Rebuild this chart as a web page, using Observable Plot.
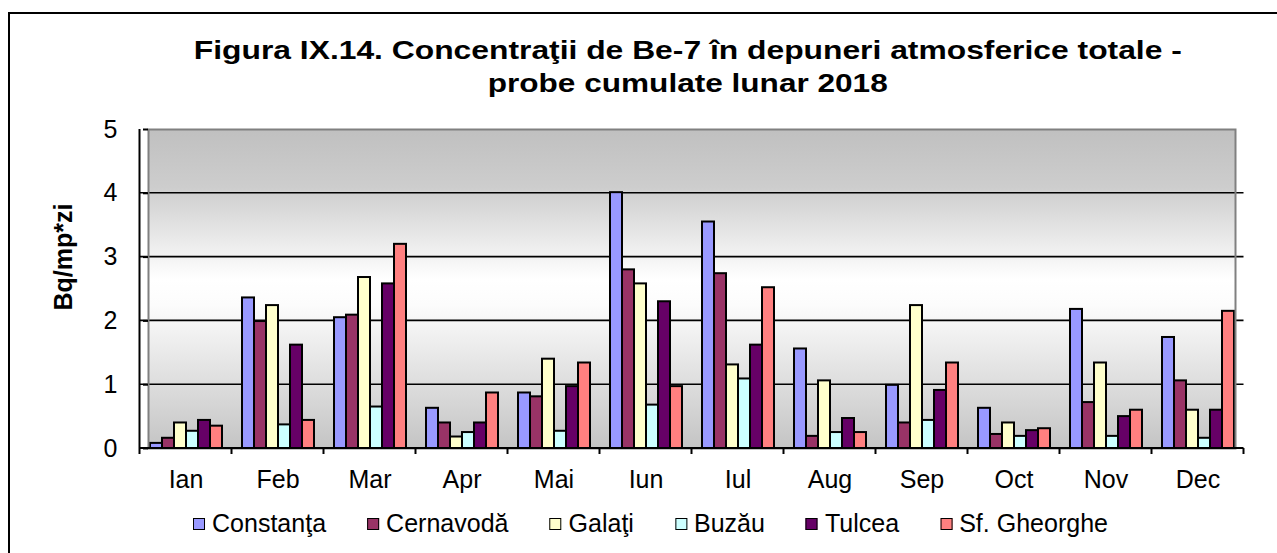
<!DOCTYPE html>
<html>
<head>
<meta charset="utf-8">
<script src="https://cdn.jsdelivr.net/npm/d3@7"></script>
<script src="https://cdn.jsdelivr.net/npm/@observablehq/plot@0.6"></script>
<style>
  html, body { margin: 0; padding: 0; background: #fff; }
  body { width: 1277px; height: 553px; position: relative; overflow: hidden;
         font-family: "Liberation Sans", Arial, sans-serif; color: #000; }
  #frame { position: absolute; left: 8px; top: 12px; width: 1340px; height: 620px;
           border: 2px solid #000; box-sizing: border-box; }
  .tline { position: absolute; left: 0; width: 1376px; text-align: center;
           font-weight: bold; font-size: 26px; line-height: 26px; white-space: nowrap; }
  .tline span { display: inline-block; transform-origin: 50% 50%; }
  #ylabel { position: absolute; left: 63px; top: 257px; font-weight: bold; font-size: 25px;
            line-height: 25px; white-space: nowrap; transform: translate(-50%, -50%) rotate(-90deg); }
  #chart { position: absolute; left: 0; top: 118px; }
  #legend { position: absolute; left: 193px; top: 511px; display: flex; gap: 41px;
            font-size: 25px; line-height: 25px; white-space: nowrap; transform-origin: 0 50%; }
  #legend .item { display: flex; align-items: center; }
  #legend .sw { width: 10px; height: 10px; border: 1px solid #000; margin-right: 7px; }
</style>
</head>
<body>
<div id="frame"></div>
<div class="tline" style="top:37px"><span id="t1">Figura IX.14. Concentraţii de Be-7 în depuneri atmosferice totale -</span></div>
<div class="tline" style="top:70px"><span id="t2">probe cumulate lunar 2018</span></div>
<div id="ylabel">Bq/mp*zi</div>
<div id="chart"></div>
<div id="legend"></div>
<script>
// ---- data ----
const months = ["Ian", "Feb", "Mar", "Apr", "Mai", "Iun", "Iul", "Aug", "Sep", "Oct", "Nov", "Dec"];
const series = ["Constanţa", "Cernavodă", "Galaţi", "Buzău", "Tulcea", "Sf. Gheorghe"];
const colors = ["#9999FF", "#993366", "#FFFFCC", "#CCFFFF", "#660066", "#FF8080"];
const constanta  = [0.08, 2.36, 2.05, 0.63, 0.87, 4.01, 3.55, 1.56, 0.99, 0.63, 2.18, 1.74];
const cernavoda  = [0.16, 1.99, 2.09, 0.40, 0.81, 2.80, 2.74, 0.19, 0.40, 0.22, 0.72, 1.06];
const galati     = [0.40, 2.24, 2.68, 0.18, 1.40, 2.58, 1.31, 1.06, 2.24, 0.40, 1.34, 0.60];
const buzau      = [0.27, 0.37, 0.65, 0.25, 0.27, 0.68, 1.09, 0.25, 0.44, 0.19, 0.19, 0.16];
const tulcea     = [0.44, 1.62, 2.58, 0.40, 0.97, 2.30, 1.62, 0.47, 0.91, 0.28, 0.50, 0.60];
const sfGheorghe = [0.35, 0.44, 3.20, 0.87, 1.34, 0.97, 2.52, 0.25, 1.34, 0.31, 0.60, 2.15];
const yTicks = [0, 1, 2, 3, 4, 5];
const gridValues = [1, 2, 3, 4];

const valuesBySeries = [constanta, cernavoda, galati, buzau, tulcea, sfGheorghe];
const data = months.flatMap((m, i) => series.map((s, j) => ({month: m, series: s, value: valuesBySeries[j][i]})));

const plot = Plot.plot({
  width: 1277,
  height: 382,
  marginLeft: 137,
  marginRight: 31,
  marginTop: 11,
  marginBottom: 52,
  style: {background: "transparent", overflow: "visible", fontFamily: "Liberation Sans, Arial, sans-serif", color: "#000"},
  fx: {domain: months, paddingInner: 0.188, paddingOuter: 0.094, label: null},
  x: {domain: series, padding: 0, axis: null},
  y: {domain: [0, 5], label: null},
  color: {domain: series, range: colors},
  marks: [
    Plot.frame({fill: "url(#plotBg)", facet: "super"}),
    Plot.barY(data, {fx: "month", x: "series", y: "value", fill: "series", stroke: "#000", strokeWidth: 2}),
    Plot.frame({stroke: "#808080", strokeWidth: 2, facet: "super"}),
    Plot.axisY({ticks: yTicks, tickSize: 5, tickPadding: 15, fontSize: 25, label: null, tickFormat: d => String(d), strokeWidth: 2}),
    Plot.axisFx({anchor: "bottom", tickSize: 0, tickPadding: 22, fontSize: 25, label: null})
  ]
});
document.getElementById("chart").appendChild(plot);

const svg = d3.select(plot);
const NS = "http://www.w3.org/2000/svg";
// background gradient of the plot area
svg.insert("defs", ":first-child").html(
  '<linearGradient id="plotBg" x1="0" y1="0" x2="0" y2="1">' +
  '<stop offset="0" stop-color="#c0c0c0"/>' +
  '<stop offset="0.18" stop-color="#cdcdcd"/>' +
  '<stop offset="0.47" stop-color="#ffffff"/>' +
  '<stop offset="0.55" stop-color="#fcfcfc"/>' +
  '<stop offset="1" stop-color="#c4c4c4"/>' +
  '</linearGradient>');

// move the y tick labels further from their ticks, as in the reference
svg.selectAll('g[aria-label="y-axis tick label"]').attr("transform", function () {
  return "translate(-11,0) " + (this.getAttribute("transform") || "");
});

// scales of the plot
const yS = plot.scale("y"), fxS = plot.scale("fx");
let fxApply = fxS.apply ? (v => fxS.apply(v)) : null;
if (!fxApply || !isFinite(fxApply(months[0]))) {
  const b = d3.scaleBand(fxS.domain, fxS.range).paddingInner(fxS.paddingInner).paddingOuter(fxS.paddingOuter);
  fxApply = v => b(v);
}
const step = fxS.step, bw = fxS.bandwidth;
const y0 = yS.apply(0), y5 = yS.apply(5);
const bounds = months.map(m => fxApply(m) - (step - bw) / 2);
bounds.push(bounds[bounds.length - 1] + step);
const xLeft = bounds[0], xRight = bounds[bounds.length - 1];

// horizontal gridlines across the full plot area, beneath the bars
const bgNode = svg.select('[aria-label="frame"]').node();
const grid = document.createElementNS(NS, "g");
grid.setAttribute("aria-label", "y-grid");
bgNode.parentNode.insertBefore(grid, bgNode.nextSibling);
const gridSel = d3.select(grid).attr("stroke", "#000").attr("stroke-width", 1.6);
gridValues.forEach(v => gridSel.append("line")
  .attr("x1", xLeft).attr("x2", xRight).attr("y1", yS.apply(v)).attr("y2", yS.apply(v)));

// x axis line, category-boundary ticks and y axis line (Excel style)
const ax = svg.append("g").attr("aria-label", "axes lines").attr("stroke", "#000").attr("stroke-width", 2);
ax.append("line").attr("x1", xLeft).attr("x2", xRight).attr("y1", y0).attr("y2", y0);
bounds.forEach(x => ax.append("line").attr("x1", x).attr("x2", x).attr("y1", y0).attr("y2", y0 + 6));
ax.append("line").attr("x1", xLeft).attr("x2", xLeft).attr("y1", y5).attr("y2", y0);

// legend
const legend = document.getElementById("legend");
series.forEach((s, i) => {
  const item = document.createElement("div");
  item.className = "item";
  const sw = document.createElement("div");
  sw.className = "sw";
  sw.style.background = colors[i];
  const t = document.createElement("span");
  t.textContent = s;
  item.appendChild(sw); item.appendChild(t);
  legend.appendChild(item);
});
const lw = legend.getBoundingClientRect().width;
legend.style.transform = `scaleX(${915 / lw})`;

// title widths
const t1 = document.getElementById("t1"), t2 = document.getElementById("t2");
t1.style.transform = `scaleX(${988 / t1.getBoundingClientRect().width})`;
t2.style.transform = `scaleX(${400 / t2.getBoundingClientRect().width})`;
</script>
</body>
</html>
